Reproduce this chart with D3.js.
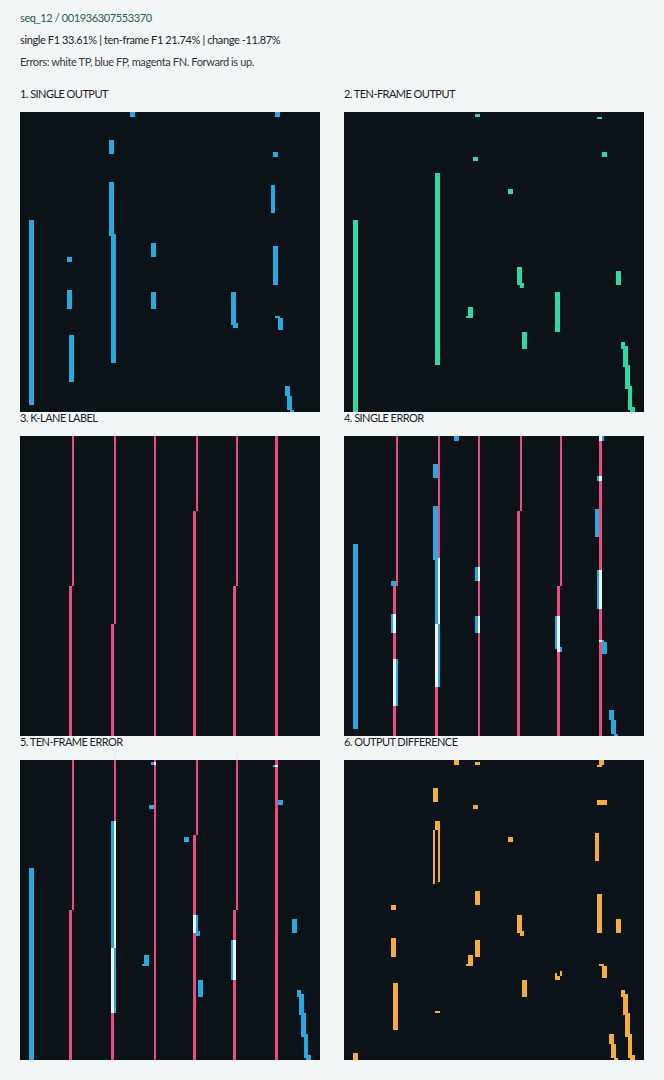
<!DOCTYPE html>
<html><head><meta charset="utf-8">
<script src="https://cdn.jsdelivr.net/npm/d3@7"></script>
<style>
html,body{margin:0;padding:0;background:#f3f6f7;}
svg{display:block;}
text{font-family:Lato, "Noto Sans", sans-serif;font-weight:400;}
</style></head><body>
<svg id="chart" width="664" height="1080"></svg>
<script>
// ---------- data (grid cells: [col0, col1, row0, row1), half-open, row 0 = farthest forward) ----------
const GRID = 128;
const headerLines = [
  "seq_12 / 001936307553370",
  "single F1 33.61% | ten-frame F1 21.74% | change -11.87%",
  "Errors: white TP, blue FP, magenta FN. Forward is up."
];
const panelTitles = [
  "1. SINGLE OUTPUT", "2. TEN-FRAME OUTPUT", "3. K-LANE LABEL",
  "4. SINGLE ERROR", "5. TEN-FRAME ERROR", "6. OUTPUT DIFFERENCE"
];
const singleOutput = [
  [47,49,0,2],[38,40,12,18],[38,40,30,53],[39,41,52,107],[4,6,46,125],
  [20,22,62,64],[56,58,56,62],[20,22,76,84],[21,23,95,115],[56,58,77,84],
  [109,111,0,2],[108,110,17,19],[107,109,31,43],[108,110,57,74],
  [90,92,77,91],[91,93,90,92],[109,111,87,88],[110,112,88,93],
  [113,115,117,121],[114,116,121,127],[115,117,127,128]
];
const tenFrameOutput = [
  [56,58,1,2],[55,57,19,21],[39,41,26,108],[4,6,46,128],
  [108,110,2,3],[110,112,17,19],[70,72,33,35],
  [53,55,83,88],[52,55,87,88],[74,76,66,74],[75,77,73,75],
  [90,92,77,94],[76,78,94,101],[116,118,68,74],
  [118,120,98,101],[119,121,100,109],[120,122,108,118],[121,123,117,127],[122,124,126,128]
];
const laneLabel = [
  [22,23,0,64],[21,22,64,128],
  [40,41,0,80],[39,40,80,128],
  [57,58,0,128],
  [75,76,0,32],[74,75,32,128],
  [92,93,0,64],[91,92,64,128],
  [109,110,0,128]
];
const colors = {
  bg:"#0b1218", single:"#2aa9e0", ten:"#2fd8a1", label:"#ee4a80",
  tp:"#eaf6fb", fp:"#2aa9e0", fn:"#ee4a80", diff:"#f6ab3d"
};

// ---------- rasterize ----------
function raster(segs){
  const g = new Uint8Array(GRID*GRID);
  segs.forEach(([c0,c1,r0,r1])=>{
    for(let c=c0;c<c1;c++) for(let r=r0;r<r1;r++) g[r*GRID+c]=1;
  });
  return g;
}
const P1 = raster(singleOutput), P2 = raster(tenFrameOutput), L = raster(laneLabel);

function classGrid(fn){
  const g = new Array(GRID*GRID).fill(null);
  for(let i=0;i<GRID*GRID;i++) g[i]=fn(i);
  return g;
}
const grids = [
  classGrid(i=>P1[i]?colors.single:null),
  classGrid(i=>P2[i]?colors.ten:null),
  classGrid(i=>L[i]?colors.label:null),
  classGrid(i=>P1[i]&&L[i]?colors.tp:(P1[i]?colors.fp:(L[i]?colors.fn:null))),
  classGrid(i=>P2[i]&&L[i]?colors.tp:(P2[i]?colors.fp:(L[i]?colors.fn:null))),
  classGrid(i=>(P1[i]^P2[i])?colors.diff:null)
];
function runs(g){
  const out=[];
  for(let c=0;c<GRID;c++){
    let r=0;
    while(r<GRID){
      const v=g[r*GRID+c];
      if(!v){r++;continue;}
      let e=r; while(e<GRID && g[e*GRID+c]===v) e++;
      out.push({c, r0:r, r1:e, color:v});
      r=e;
    }
  }
  return out;
}

// ---------- layout ----------
const svg = d3.select("#chart");
const size = 300;
const x = d3.scaleLinear().domain([0,GRID]).range([0,size]);
const y = d3.scaleLinear().domain([0,GRID]).range([0,size]);
const col = d3.scaleOrdinal().domain([0,1]).range([20,344]);
const rowY = d3.scaleOrdinal().domain([0,1,2]).range([112,436,760]);

svg.selectAll("text.hdr").data(headerLines).join("text")
  .attr("class","hdr").attr("x",20).attr("y",(d,i)=>22+i*22)
  .attr("font-size",11).attr("letter-spacing",-0.38)
  .attr("fill",(d,i)=>i===0?"#1d5b50":(i===1?"#1c2227":"#343b40"))
  .text(d=>d);

const panels = svg.selectAll("g.panel").data(grids).join("g")
  .attr("class","panel")
  .attr("transform",(d,i)=>`translate(${col(i%2)},${rowY(Math.floor(i/2))})`);

panels.append("text").attr("x",0).attr("y",-14)
  .attr("font-size",11).attr("letter-spacing",-0.55).attr("fill","#1c2227")
  .text((d,i)=>panelTitles[i]);

panels.append("rect").attr("width",size).attr("height",size).attr("fill",colors.bg);

panels.each(function(g){
  d3.select(this).selectAll("rect.cell").data(runs(g)).join("rect")
    .attr("class","cell")
    .attr("shape-rendering","crispEdges")
    .attr("x",d=>x(d.c)).attr("width",d=>x(d.c+1)-x(d.c))
    .attr("y",d=>y(d.r0)).attr("height",d=>y(d.r1)-y(d.r0))
    .attr("fill",d=>d.color);
});
</script>
</body></html>
